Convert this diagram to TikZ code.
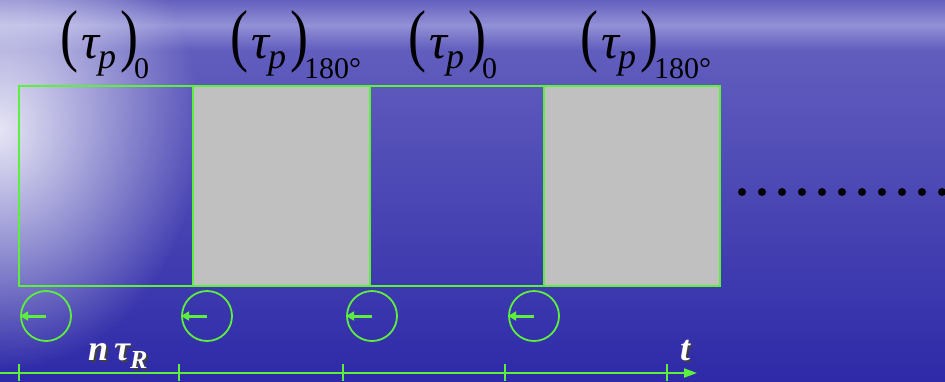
\documentclass[tikz,border=0pt]{standalone}
\usepackage{fontspec}
\setmainfont{Liberation Serif}
\usetikzlibrary{arrows.meta, positioning, fadings}
\definecolor{pulsegreen}{RGB}{92,240,60}
\definecolor{pulsegray}{RGB}{192,192,192}
\definecolor{seatop}{RGB}{100,96,190}
\definecolor{seamid}{RGB}{84,80,188}
\definecolor{seabot}{RGB}{46,42,168}
\definecolor{haze}{RGB}{146,144,214}
\tikzfading[name=glowfade, inner color=transparent!15, outer color=transparent!100]

\newcommand\parenL{\scalebox{1}[1.28]{\fontsize{54}{54}\selectfont(}}
\newcommand\parenR{\scalebox{1}[1.28]{\fontsize{54}{54}\selectfont)}}
\newcommand\taulabel[1]{\parenL\kern3pt{\fontsize{50}{50}\selectfont\itshape τ}\kern-1pt%
  \raisebox{-10pt}{\fontsize{36}{36}\selectfont\itshape p}\kern4pt\parenR\kern-4pt%
  \raisebox{-20pt}{\fontsize{30}{30}\selectfont #1}}
\newcommand\shadowed[1]{\makebox[0pt][l]{\kern2pt\raisebox{-2pt}{\color{black!75}#1}}#1}

\begin{document}
\begin{tikzpicture}[
    x=1pt, y=-1pt,
    pulse/.style={
        rectangle,
        draw=pulsegreen,
        line width=2.4pt,
        minimum height=200pt,
        inner sep=0pt,
        outer sep=0pt
    },
    shut/.style={pulse, fill=pulsegray},
    ring/.style={circle, draw=pulsegreen, line width=1.8pt, minimum size=50pt, inner sep=0pt},
    flip/.style={-{Triangle[length=8pt,width=9pt]}, draw=pulsegreen, line width=3pt},
    axis/.style={-{Triangle[length=13pt,width=9pt]}, draw=pulsegreen, line width=2pt},
    lab/.style={anchor=base west, inner sep=0pt, text=black},
    axlab/.style={anchor=base west, inner sep=0pt, text=white, font=\fontsize{36}{36}\selectfont\bfseries\itshape}
]

% background sea
\useasboundingbox (0,0) rectangle (945,381);
\shade[top color=seatop, bottom color=seatop!85!seamid, middle color=haze] (0,0) rectangle (945,50);
\shade[top color=seatop!85!seamid, bottom color=seabot] (0,50) rectangle (945,381);
\fill[white, path fading=glowfade] (0,130) ellipse (200 and 240);

% pulse blocks
\node[pulse, anchor=north west, minimum width=174pt] (p1) at (19,86) {};
\node[shut, right=0pt of p1, minimum width=177pt] (p2) {};
\node[pulse, right=0pt of p2, minimum width=174pt] (p3) {};
\node[shut, right=0pt of p3, minimum width=176pt] (p4) {};

% phase labels
\node[lab] (tau1) at (60,58) {\taulabel{0}};
\node[lab] (tau2) at (230,58) {\taulabel{180°}};
\node[lab] (tau3) at (408,58) {\taulabel{0}};
\node[lab] (tau4) at (580,58) {\taulabel{180°}};

% continuation dots
\foreach \i in {0,...,10}
    \fill[black] (742+20*\i,192) circle (4pt);

% magnetization
\node[ring] (r1) at (46,316) {};
\node[ring] (r2) at (207,316) {};
\node[ring] (r3) at (372,316) {};
\node[ring] (r4) at (534,316) {};
\foreach \r in {r1,r2,r3,r4}
    \draw[flip] (\r.center) -- (\r.west);

% time axis
\coordinate (t0) at (0,373);
\coordinate (t1) at (697,373);
\draw[axis] (t0) -- (t1);
\foreach \x in {19,179,343,505,667}
    \draw[pulsegreen, line width=2pt] (\x,364) -- (\x,381);

\node[axlab] (ntr) at (88,360) {\shadowed{n\,τ\raisebox{-8pt}{\fontsize{26}{26}\selectfont R}}};
\node[axlab] (tt) at (680,360) {\shadowed{t}};

\end{tikzpicture}
\end{document}
